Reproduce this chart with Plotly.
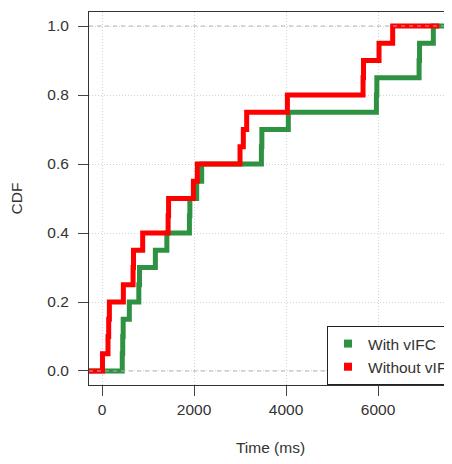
import plotly.graph_objects as go

# ---- data (times in ms at which each CDF step occurs) ----
series_names = ["With vIFC", "Without vIFC"]
with_vifc_ms = [440, 450, 460, 594, 800, 815, 1160, 1410, 1900, 1910,
                2058, 2167, 3465, 3475, 4050, 5965, 5975, 6893, 6903, 7203]
without_vifc_ms = [10, 130, 145, 160, 464, 675, 685, 884, 1437, 1447,
                   1986, 2072, 3000, 3072, 3145, 4030, 5675, 5685, 6022, 6319]
x_ticks = [0, 2000, 4000, 6000]
y_ticks = [0.0, 0.2, 0.4, 0.6, 0.8, 1.0]
x_start = -283
x_end_with = 7700
x_end_without = 7330

colors = {"With vIFC": "#2E9242", "Without vIFC": "#FF0000"}
FONT = "Liberation Sans, Arial, sans-serif"
FS = 15.5

# page body adds an 8px offset; figure is sized so the plot reaches the window edge
OFF = 8
W, H = 452 - OFF, 464 - OFF
PL, PT, PB = 89 - OFF, 12 - OFF, 385 - OFF  # plot left/top/bottom in figure px


def ecdf_steps(times, x0, x1):
    n = len(times)
    xs = [x0] + list(times) + [x1]
    ys = [0.0] + [(i + 1) / n for i in range(n)] + [1.0]
    return xs, ys


fig = go.Figure()

gx, gy = ecdf_steps(with_vifc_ms, x_start, x_end_with)
rx, ry = ecdf_steps(without_vifc_ms, x_start, x_end_without)

fig.add_trace(go.Scatter(x=gx, y=gy, mode="lines", line=dict(color=colors["With vIFC"], width=5, shape="hv"),
                         showlegend=False, hoverinfo="skip"))
fig.add_trace(go.Scatter(x=rx, y=ry, mode="lines", line=dict(color=colors["Without vIFC"], width=5, shape="hv"),
                         showlegend=False, hoverinfo="skip"))

# legend-only entries with square keys
for name in series_names:
    fig.add_trace(go.Scatter(x=[None], y=[None], mode="markers", name=name,
                             marker=dict(symbol="square", size=8, color=colors[name])))

# dashed reference lines at 0 and 1 (drawn over the curves)
for yv in (0, 1):
    fig.add_shape(type="line", xref="paper", yref="y", x0=0, x1=1, y0=yv, y1=yv,
                  line=dict(color="#B3B3B3", width=1, dash="4px,4px"), layer="above")

plot_w = W - PL
fig.update_layout(
    width=W, height=H,
    margin=dict(l=PL, r=0, t=PT, b=H - PB, autoexpand=False),
    paper_bgcolor="white", plot_bgcolor="white",
    font=dict(family=FONT, size=FS, color="#333333"),
    legend=dict(x=(327 - 89) / plot_w, xanchor="left", y=0, yanchor="bottom",
                bordercolor="#222222", borderwidth=1, bgcolor="white",
                font=dict(family=FONT, size=FS, color="#333333"),
                itemwidth=30, tracegroupgap=0),
)

fig.update_xaxes(
    range=[x_start, (452 - 102) / 0.046],
    tickvals=x_ticks, ticktext=[str(v) for v in x_ticks],
    showline=True, linecolor="#333333", linewidth=1, mirror=True,
    ticks="outside", ticklen=10, tickcolor="#444444",
    showgrid=True, gridcolor="#D3D3D3", griddash="1px,2px", gridwidth=1,
    zeroline=False,
    title=dict(text="Time (ms)", font=dict(family=FONT, size=FS, color="#333333"), standoff=25),
)
fig.update_yaxes(
    range=[-0.0406, 1.0406],
    tickvals=y_ticks, tickformat=".1f",
    showline=True, linecolor="#333333", linewidth=1, mirror=False,
    ticks="outside", ticklen=10, tickcolor="#444444", ticklabelstandoff=6,
    showgrid=True, gridcolor="#D3D3D3", griddash="1px,2px", gridwidth=1,
    zeroline=False,
    title=dict(text="CDF", font=dict(family=FONT, size=FS, color="#333333"), standoff=22),
)

fig.write_html("out.html")
